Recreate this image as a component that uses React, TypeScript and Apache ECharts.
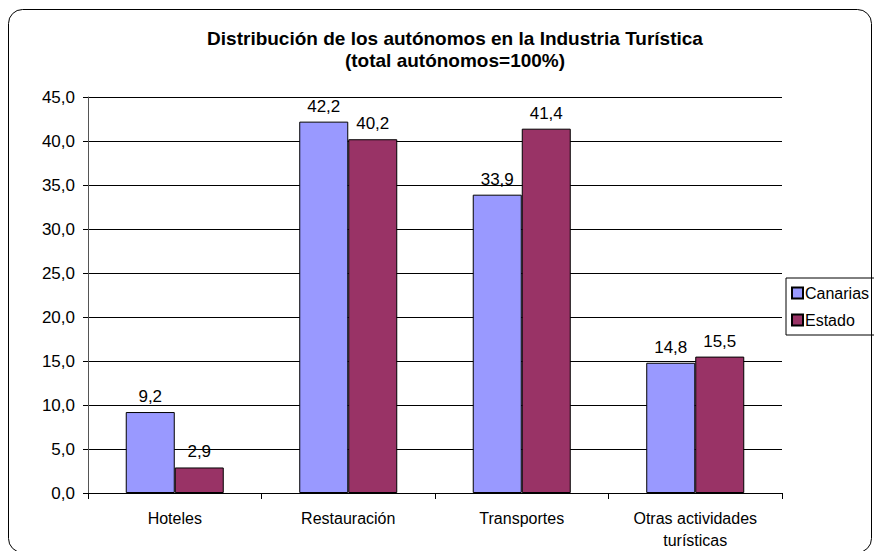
import React, { useEffect, useRef } from "react";
import * as echarts from "echarts";

const categories = ["Hoteles", "Restauración", "Transportes", "Otras actividades\nturísticas"];
const canarias = [9.2, 42.2, 33.9, 14.8];
const estado = [2.9, 40.2, 41.4, 15.5];
const seriesNames = ["Canarias", "Estado"];
const titleLines = ["Distribución de los autónomos en la Industria Turística", "(total autónomos=100%)"];

const FONT = "'Liberation Sans', Arial, sans-serif";
const fmt = (v: number) => v.toFixed(1).replace(".", ",");

export default function App() {
  const ref = useRef<HTMLDivElement>(null);
  useEffect(() => {
    if (!ref.current) return;
    const chart = echarts.init(ref.current, null, { renderer: "svg" });
    const labelCfg = {
      show: true,
      position: "top" as const,
      distance: 7,
      color: "#000",
      fontSize: 17,
      fontFamily: FONT,
      formatter: (p: any) => fmt(p.value),
    };
    chart.setOption({
      animation: false,
      backgroundColor: "#fff",
      textStyle: { fontFamily: FONT },
      title: {
        text: titleLines.join("\n"),
        left: 455,
        textAlign: "center",
        top: 27,
        padding: 0,
        textStyle: { fontFamily: FONT, fontSize: 19, fontWeight: "bold", color: "#000", lineHeight: 22 },
      },
      graphic: [
        {
          type: "rect",
          shape: { x: 8.5, y: 9.5, width: 863, height: 543, r: 14 },
          style: { fill: "none", stroke: "#000", lineWidth: 1 },
          silent: true,
        },
      ],
      legend: {
        orient: "vertical",
        left: 786,
        top: 278,
        data: seriesNames,
        itemWidth: 11,
        itemHeight: 11,
        itemGap: 9,
        icon: "rect",
        borderColor: "#000",
        borderWidth: 1,
        padding: [6, 20, 6, 5],
        textStyle: { fontFamily: FONT, fontSize: 16, color: "#000", lineHeight: 18, padding: [0, 0, 0, -3] },
      },
      grid: { left: 88, right: 92, top: 97, bottom: 58, containLabel: false },
      xAxis: {
        type: "category",
        data: categories,
        axisLine: { lineStyle: { color: "#000", width: 1 } },
        axisTick: { show: true, length: 6, lineStyle: { color: "#000" }, alignWithLabel: false },
        axisLabel: { color: "#000", fontSize: 16, fontFamily: FONT, margin: 14, lineHeight: 22, interval: 0 },
      },
      yAxis: {
        type: "value",
        min: 0,
        max: 45,
        interval: 5,
        axisLine: { show: true, lineStyle: { color: "#555", width: 1 } },
        axisTick: { show: true, length: 5, lineStyle: { color: "#000" } },
        splitLine: { show: true, lineStyle: { color: "#000", width: 1 } },
        axisLabel: { color: "#000", fontSize: 17, fontFamily: FONT, margin: 13, formatter: (v: number) => fmt(v) },
      },
      series: [
        {
          name: seriesNames[0],
          type: "bar",
          data: canarias,
          barGap: "0%",
          barCategoryGap: "43.5%",
          itemStyle: { color: "#9999FF", borderColor: "#000", borderWidth: 1 },
          label: labelCfg,
        },
        {
          name: seriesNames[1],
          type: "bar",
          data: estado,
          itemStyle: { color: "#993366", borderColor: "#000", borderWidth: 1 },
          label: labelCfg,
        },
      ],
    });
    return () => chart.dispose();
  }, []);
  return (
    <div
      ref={ref}
      style={{ position: "absolute", left: 0, top: 0, width: 874, height: 551 }}
    />
  );
}
